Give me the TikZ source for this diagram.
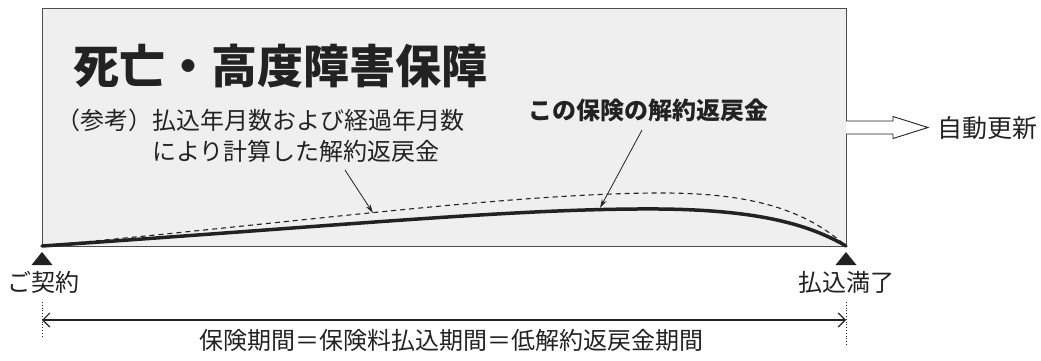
\documentclass[tikz,border=0pt]{standalone}
\usepackage{fontspec}
\setmainfont{Noto Sans CJK JP}
\usetikzlibrary{arrows.meta}
\definecolor{boxfill}{HTML}{EFEFEF}
\definecolor{ink}{HTML}{222222}
\tikzset{
  txt/.style={inner sep=0pt, text=ink, font=\fontsize{24}{28}\selectfont},
  boldtxt/.style={inner sep=0pt, text=ink, font=\bfseries\fontsize{24}{28}\selectfont},
  pointer/.style={draw=ink, line width=0.8pt, -{Stealth[length=9pt,width=5pt]}},
  marker/.style={fill=ink},
  guide/.style={draw=ink, line width=0.8pt, dotted},
}
\begin{document}
\begin{tikzpicture}[x=1pt,y=-1pt]
\useasboundingbox (0,0) rectangle (1041,360);
% main box
\draw[fill=boxfill, draw=ink!80, line width=1pt] (42,8) rectangle (846,246);
\coordinate (A) at (42,246);
\coordinate (B) at (846,246);
% title
\node[inner sep=0pt, text=ink, font=\bfseries\fontsize{46}{50}\selectfont, anchor=west] (title) at (73,66) {死亡・高度障害保障};
% reference text
\node[txt, anchor=west] (ref0) at (56,120) {（参考）};
\node[txt, anchor=west] (ref1) at (152,120) {払込年月数および経過年月数};
\node[txt, anchor=west] (ref2) at (152,151) {により計算した解約返戻金};
% this insurance label
\node[boldtxt] (sol) at (648,110) {この保険の解約返戻金};
% curves
\draw[ink, line width=1.1pt, dash pattern=on 5pt off 4pt] (A) .. controls (300,222) and (500,195) .. (650,193) .. controls (740,192) and (800,205) .. (B);
\draw[ink, line width=3.5pt, line cap=round] (A) .. controls (350,225) and (520,208) .. (660,209) .. controls (760,210) and (810,225) .. (B);
% pointers
\coordinate (dstart) at (345,170);
\coordinate (dtip) at (373,213);
\coordinate (sstart) at (642,130);
\coordinate (stip) at (600,208);
\draw[pointer] (dstart) -- (dtip);
\draw[pointer] (sstart) -- (stip);
% renewal arrow
\draw[fill=white, draw=ink, line width=0.9pt] (846,121) -- (893,121) -- (893,116.5) -- (928,127.5) -- (893,138.5) -- (893,134) -- (846,134);
\node[inner sep=0pt, text=ink, font=\fontsize{25}{29}\selectfont, anchor=west] (renew) at (937,128) {自動更新};
% markers
\fill[marker] (42,252) -- (52.5,265) -- (31.5,265) -- cycle;
\fill[marker] (846,252) -- (856.5,265) -- (835.5,265) -- cycle;
\node[txt] (start) at (44,282) {ご契約};
\node[txt] (end) at (846,282) {払込満了};
% period
\coordinate (gl1) at (42,302);
\coordinate (gl2) at (42,336);
\coordinate (gr1) at (846,302);
\coordinate (gr2) at (846,345);
\draw[guide] (gl1) -- (gl2);
\draw[guide] (gr1) -- (gr2);
\coordinate (pl) at (42,320);
\coordinate (pr) at (846,320);
\draw[ink, line width=1.2pt, {Straight Barb[length=7pt,width=14pt]}-{Straight Barb[length=7pt,width=14pt]}] (pl) -- (pr);
\node[txt] (period) at (451,340) {保険期間＝保険料払込期間＝低解約返戻金期間};
\end{tikzpicture}
\end{document}
